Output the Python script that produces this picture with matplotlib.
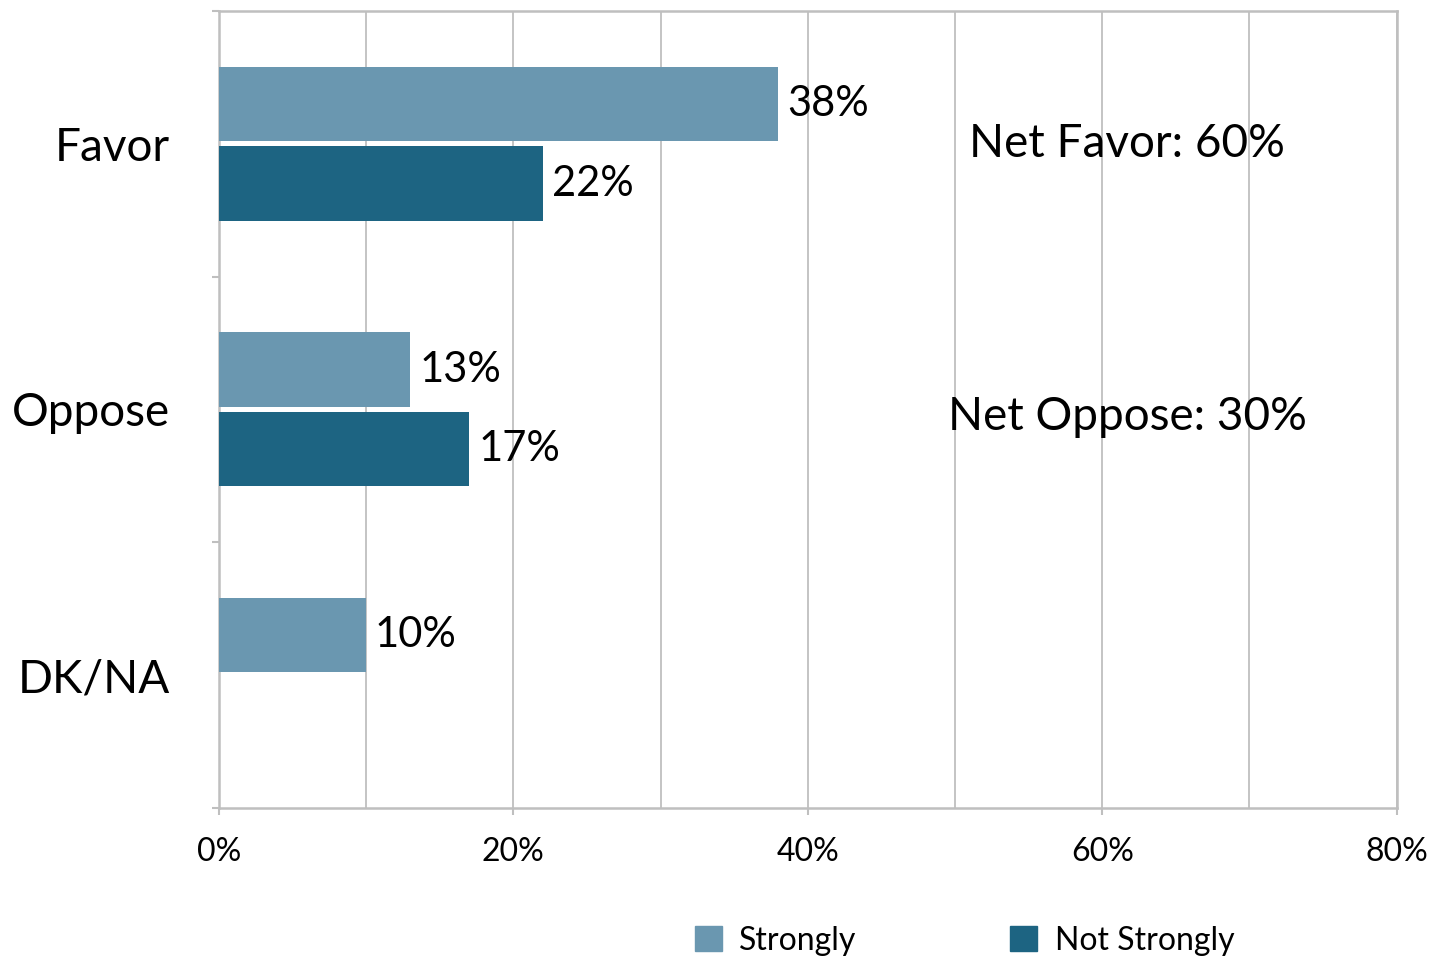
import matplotlib.pyplot as plt
import numpy as np
from matplotlib.patches import Patch

plt.rcParams['font.family'] = ['Lato', 'DejaVu Sans']

# data
categories = ['Favor', 'Oppose', 'DK/NA']
strongly = [38, 13, 10]
not_strongly = [22, 17, np.nan]
series_names = ['Strongly', 'Not Strongly']
net_labels = ['Net Favor: 60%', 'Net Oppose: 30%']
xticks = [0, 20, 40, 60, 80]

c_light = '#6A97B0'
c_dark = '#1D6482'
grid_c = '#BFBFBF'

fig = plt.figure(figsize=(14.31, 9.58), dpi=100)
ax = fig.add_axes([0.153, 0.1566, 0.823, 0.832])

y = np.arange(len(categories))
h = 0.28
ax.barh(y - 0.15, strongly, height=h, color=c_light, zorder=3)
ax.barh(y + 0.15, not_strongly, height=h, color=c_dark, zorder=3)

for yi, v in zip(y - 0.15, strongly):
    ax.text(v + 0.6, yi, f'{v:.0f}%', va='center', ha='left', fontsize=30)
for yi, v in zip(y + 0.15, not_strongly):
    if not np.isnan(v):
        ax.text(v + 0.6, yi, f'{v:.0f}%', va='center', ha='left', fontsize=30)

ax.text(61.7, 0.0, net_labels[0], ha='center', va='center', fontsize=33)
ax.text(61.7, 1.03, net_labels[1], ha='center', va='center', fontsize=33)

ax.set_xlim(0, 80)
ax.set_ylim(2.5, -0.5)
ax.set_xticks(xticks)
ax.set_xticklabels([f'{t}%' for t in xticks], fontsize=23)
ax.set_xticks(np.arange(0, 81, 10), minor=True)
ax.grid(axis='x', which='both', color=grid_c, linewidth=1.3, zorder=0)

ax.set_yticks(y)
ax.set_yticklabels(categories, fontsize=33)
ax.set_yticks([-0.5, 0.5, 1.5, 2.5], minor=True)
ax.tick_params(axis='y', which='major', length=0, pad=35)
ax.tick_params(axis='y', which='minor', length=5, color=grid_c, width=1.5)
ax.tick_params(axis='x', which='major', length=5, color=grid_c, width=1.5, pad=16)
ax.tick_params(axis='x', which='minor', length=0)

for s in ax.spines.values():
    s.set_color(grid_c)
    s.set_linewidth(1.8)

handles = [Patch(color=c_light), Patch(color=c_dark)]
fig.legend(handles, series_names, loc='center', bbox_to_anchor=(0.674, 0.018),
           ncol=2, frameon=False, fontsize=23, handlelength=0.85, handleheight=0.85,
           columnspacing=4.8, handletextpad=0.55)

fig.savefig('out.png', dpi=100)
